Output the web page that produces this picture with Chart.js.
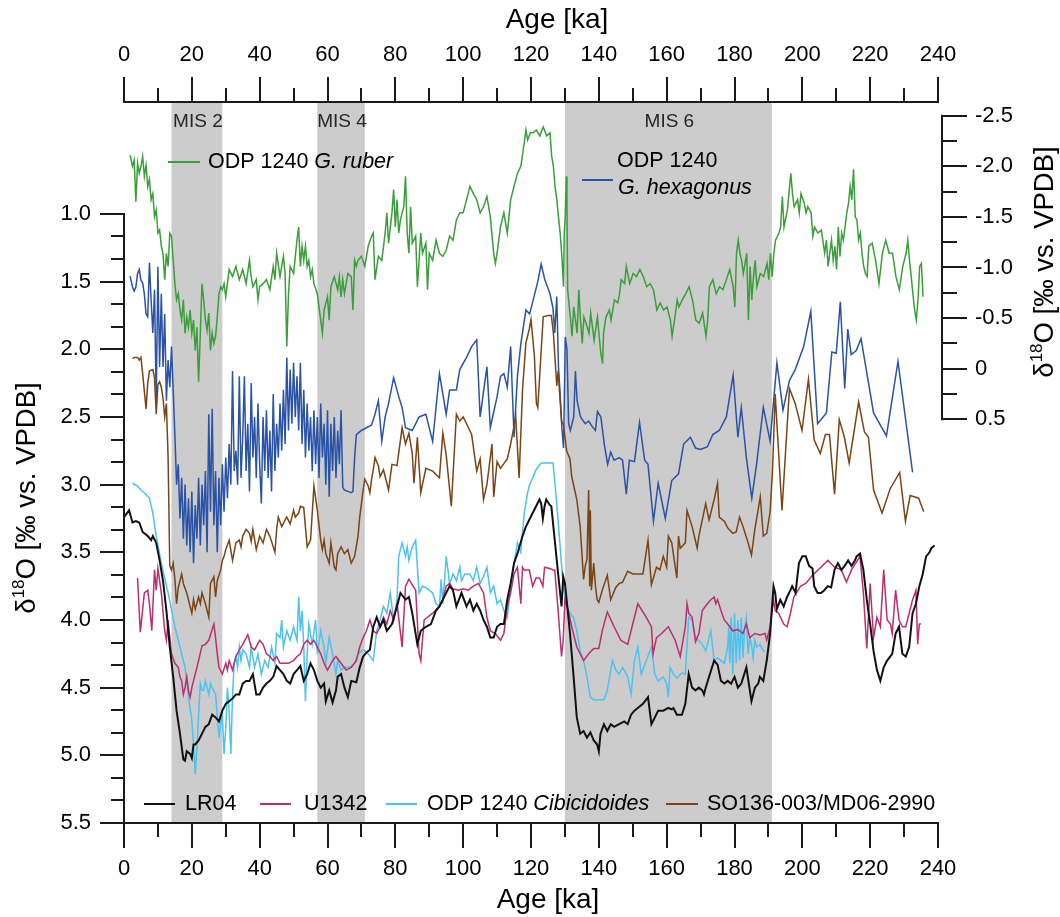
<!DOCTYPE html>
<html>
<head>
<meta charset="utf-8">
<title>d18O records, 0-240 ka</title>
<script src="https://cdn.jsdelivr.net/npm/chart.js@4/dist/chart.umd.min.js"></script>
<style>
html, body { margin: 0; padding: 0; background: #fff; }
canvas { display: block; }
</style>
</head>
<body>
<canvas id="chart" width="1060" height="917"></canvas>
<script>
// =============================
// DATA (age in ka, d18O in permil vs. VPDB)
// =============================

// tick labels
const ageTicks = [0, 20, 40, 60, 80, 100, 120, 140, 160, 180, 200, 220, 240]
const leftTickVals = [1.0, 1.5, 2.0, 2.5, 3.0, 3.5, 4.0, 4.5, 5.0, 5.5]
const leftTickLabels = ["1.0", "1.5", "2.0", "2.5", "3.0", "3.5", "4.0", "4.5", "5.0", "5.5"]
const rightTickVals = [-2.5, -2.0, -1.5, -1.0, -0.5, 0, 0.5]
const rightTickLabels = ["-2.5", "-2.0", "-1.5", "-1.0", "-0.5", "0", "0.5"]

// marine isotope stages (shaded)
const misNames = ["MIS 2", "MIS 4", "MIS 6"]
const misStart = [14, 57, 130]
const misEnd = [29, 71, 191]

// ODP 1240 G. ruber (right axis)
const ruberAge = [1.8,2.5,3,3.5,4,4.5,5,5.5,6,6.5,7,7.5,8,8.5,9,9.5,10,10.5,11,11.5,12,12.5,13,13.5,14,14.5,15,15.5,16,16.5,17,17.5,18,18.5,19,19.5,20,20.5,21,21.5,22,22.5,23,23.5,24,24.5,25,25.5,26,26.5,27,27.5,28,28.5,29,29.5,30,31,32,33,34,35,36,37,37.5,38,39,39.5,40,41,42,43,44,44.5,45,46,47,47.5,48,48.5,49,50,51,51.5,52,52.5,53,53.5,54,54.5,55,55.5,56,57,58,58.5,59,60,60.5,61,62,63,63.5,64,64.5,65,65.5,66,67,67.5,68,68.5,69,70,71,72,73,73.5,74,75,76,77,77.5,78,79,79.5,80,80.5,81,81.5,82,82.5,83,83.5,84,84.5,85,86,86.5,87,87.5,88,89,89.5,90,91,92,93,94,95,96,97,98,99,100,101,102,103,104,105,106,107,108,109,109.5,110,111,112,113,113.5,114,115,116,117,118,118.5,119,119.8,120.6,121.6,122.6,123.6,124.6,125.6,126.1,126.6,127.1,127.6,128.1,128.6,129.1,129.6,129.8,130.1,130.4,130.6,130.8,131.1,131.6,132.1,132.6,133.6,134.1,134.6,135.1,135.6,136.6,137.1,137.6,138.6,139.6,140.1,140.6,141.1,141.4,142.1,143.1,143.6,144.6,145.6,146.1,146.6,147.6,148.1,149.1,150.1,151.1,152.1,153.1,154.1,155.1,156.1,157.1,158.1,159.1,160.1,161.1,161.6,162.6,163.1,163.6,164.6,165.6,166.6,167.6,168.6,169.6,170.6,171.6,172.1,172.6,173.6,174.6,175.6,176.6,177.6,178.6,179.6,180.1,180.6,181.1,181.6,182.1,182.6,183.6,184.1,184.6,185.1,185.6,186.1,186.6,187.6,188.6,189.6,190.1,190.6,191.1,191.6,192.1,193.1,193.6,194.1,194.6,195.6,196.6,197.1,197.6,198.6,199.1,199.6,200.6,201.1,201.6,202.6,203.1,203.6,204.6,205.6,206.6,207.1,207.6,208.6,209.1,209.6,210.1,210.6,211.1,211.6,212.1,212.6,213.1,213.6,214.1,214.6,215.1,215.6,216.1,216.6,217.1,217.6,218.1,218.6,219.1,219.6,220.6,221.6,222.6,223.6,224.6,225.6,226.6,227.6,228.6,229.6,230.6,231.1,231.6,232.1,232.6,233.1,233.6,234.1,234.6,235.1,235.6]
const ruberD18O = [-2.11,-2.00,-2.06,-1.65,-2.03,-1.93,-2.00,-2.10,-1.90,-2.01,-1.80,-1.87,-1.67,-1.73,-1.50,-1.57,-1.34,-1.37,-1.21,-1.14,-0.88,-1.14,-1.01,-1.34,-1.31,-1.07,-0.84,-0.68,-0.74,-0.58,-0.48,-0.68,-0.35,-0.51,-0.41,-0.58,-0.35,-0.48,-0.18,-0.41,0.13,-0.35,-0.84,-0.68,-0.48,-0.38,-0.55,-0.18,-0.35,-0.25,-0.32,-0.51,-0.74,-0.81,-0.78,-0.84,-0.71,-0.98,-0.91,-1.01,-0.88,-0.98,-0.84,-1.07,-0.91,-0.81,-0.88,-0.68,-0.81,-0.84,-0.88,-0.78,-1.01,-0.88,-1.14,-0.91,-1.11,-0.94,-0.22,-0.74,-1.01,-0.94,-1.27,-1.40,-1.01,-1.21,-1.07,-1.21,-1.01,-1.07,-0.91,-0.98,-0.84,-0.74,-0.48,-0.35,-0.58,-0.71,-0.48,-0.81,-0.91,-0.78,-0.91,-0.71,-0.88,-0.74,-0.84,-0.94,-0.91,-0.58,-1.07,-1.01,-1.07,-1.11,-1.01,-1.21,-1.31,-1.34,-0.88,-1.11,-1.07,-1.34,-1.54,-1.24,-1.54,-1.77,-1.40,-1.67,-1.34,-1.47,-1.54,-1.60,-1.90,-1.34,-1.14,-1.60,-1.24,-1.31,-0.81,-1.07,-1.34,-1.14,-1.24,-0.78,-1.14,-1.07,-1.27,-1.14,-1.11,-1.17,-1.31,-1.27,-1.47,-1.54,-1.54,-1.67,-1.80,-1.73,-1.67,-1.54,-1.60,-1.70,-1.50,-1.14,-1.04,-1.14,-1.40,-1.54,-1.34,-1.50,-1.67,-1.80,-1.93,-2.00,-2.23,-2.36,-2.26,-2.33,-2.33,-2.36,-2.30,-2.39,-2.30,-2.33,-2.10,-2.00,-1.80,-1.67,-1.50,-1.34,-1.11,-0.81,-1.34,-1.50,-1.90,-1.67,-0.78,-0.68,-0.51,-0.32,-0.61,-0.35,-0.78,-0.48,-0.25,-0.51,-0.41,-0.35,-0.55,-0.28,-0.51,-0.32,-0.15,-0.05,-0.35,-0.51,-0.58,-0.48,-0.68,-0.65,-0.74,-0.88,-0.84,-1.01,-0.84,-0.94,-0.91,-0.98,-0.91,-0.81,-0.84,-0.78,-0.58,-0.65,-0.58,-0.61,-0.48,-0.32,-0.55,-0.68,-0.61,-0.68,-0.74,-0.81,-0.68,-0.48,-0.45,-0.55,-0.32,-0.48,-0.81,-0.88,-0.74,-0.81,-0.78,-0.88,-0.98,-0.81,-0.61,-1.14,-1.27,-1.14,-1.07,-0.94,-1.14,-0.48,-1.01,-0.68,-0.91,-1.07,-0.81,-0.94,-0.91,-1.04,-0.88,-1.14,-0.91,-1.14,-1.27,-1.34,-1.40,-1.70,-1.40,-1.57,-1.93,-1.73,-1.60,-1.67,-1.54,-1.73,-1.63,-1.54,-1.60,-1.54,-1.31,-1.40,-1.34,-1.37,-1.14,-1.27,-1.01,-1.27,-1.07,-1.21,-0.98,-1.40,-1.11,-1.34,-1.27,-1.40,-1.54,-1.63,-1.80,-1.67,-1.97,-1.50,-1.47,-1.27,-1.34,-1.14,-1.01,-0.94,-0.91,-1.21,-1.24,-1.07,-0.84,-1.14,-1.27,-1.14,-1.14,-0.91,-0.78,-1.01,-1.14,-1.27,-1.07,-0.91,-0.74,-0.58,-0.48,-0.68,-1.01,-1.04,-0.71]

// ODP 1240 G. hexagonus (left axis)
const hexAge = [1.8,2.5,3,3.5,4,4.5,5,5.5,6,6.5,7,7.5,8,8.5,9,9.5,10,10.5,11,11.5,12,12.5,13,13.5,14,14.5,15,15.5,16,16.5,17,17.5,18,18.5,19,19.5,20,20.5,21,21.5,22,22.5,23,23.5,24,24.5,25,25.5,26,26.5,27,27.5,28,28.5,29,29.5,30,30.5,31,31.5,32,32.5,33,33.5,34,34.5,35,35.5,36,36.5,37,37.5,38,38.5,39,39.5,40,40.5,41,41.5,42,42.5,43,43.5,44,44.5,45,45.5,46,46.5,47,47.5,48,48.5,49,49.5,50,50.5,51,51.5,52,52.5,53,53.5,54,54.5,55,55.5,56,56.5,57,57.5,58,58.5,59,59.5,60,60.5,61,61.5,62,62.5,63,63.5,64,64.5,65,66,67,67.5,68,68.5,70,71.5,73,74,75,76,77,78,79.5,81,82,83,85,87,89,91,93,95,96,98,99,101,102.5,104,105,107,108,110,111,112,113,114,115,116,117,118.5,119.6,121,122,123,124,125.6,126.5,127,127.6,128.1,128.6,129.1,129.6,130.1,130.6,131.1,131.6,132.6,133.1,133.6,134.6,136,137,138,139,139.6,140.6,141.6,142.6,143.5,144.5,146,147,148.1,149,150.5,152,153.5,154.5,156.1,157.5,159.6,161.5,163.5,165,167,168.5,170,172,173.6,175.5,177.6,179.6,181,182,183.5,185.1,186.5,188.5,190.5,192.5,194.3,196.2,197.9,200.4,202.5,204.5,207.1,208.7,210,211.2,212.5,213.4,214.4,215.9,217.3,221,224.8,228.2,232.5]
const hexD18O = [1.46,1.54,1.57,1.54,1.44,1.41,1.49,1.51,1.59,1.74,1.76,1.36,1.64,1.88,1.56,2.38,1.39,2.13,1.59,2.13,1.74,2.38,2.08,2.28,1.98,2.3,2.63,3.0,2.85,3.25,2.95,3.4,3.0,3.45,3.1,3.5,3.05,3.58,3.15,3.4,2.95,3.45,3.0,3.3,2.9,3.5,2.48,3.2,2.44,3.3,2.9,3.5,2.95,3.3,2.85,3.2,2.8,3.1,2.7,3.0,2.16,2.9,2.75,3.0,2.2,2.95,2.65,2.2,2.9,2.55,3.05,2.25,2.8,2.5,2.95,2.4,2.85,3.14,2.5,2.9,2.45,2.95,2.6,3.05,2.33,2.9,2.55,2.8,2.4,2.75,2.3,2.7,2.06,2.6,2.15,2.55,2.1,2.5,2.2,2.6,2.1,2.7,2.3,2.8,2.4,2.75,2.5,2.9,2.45,2.85,2.5,2.95,2.4,2.8,2.55,3.0,2.45,3.09,2.55,2.9,2.5,2.95,2.6,2.85,2.45,3.02,3.04,3.05,3.06,3.05,2.8,2.63,2.6,2.58,2.56,2.48,2.38,2.68,2.5,2.4,2.21,2.35,2.43,2.58,2.6,2.5,2.48,2.68,2.18,2.48,2.3,2.3,2.15,2.06,1.98,1.93,2.5,2.13,2.58,2.35,2.2,2.18,2.28,1.98,2.65,2.2,1.96,1.71,1.74,1.6,1.5,1.37,1.48,1.59,1.7,1.88,1.61,2.13,2.33,2.58,2.73,1.91,2.0,2.55,2.6,2.5,2.16,2.38,2.5,2.55,2.53,2.57,2.6,2.46,2.5,2.7,2.85,2.76,2.82,2.8,2.82,3.07,2.82,2.83,2.54,2.82,2.85,3.27,2.99,3.25,2.97,2.92,2.7,2.65,2.73,2.74,2.72,2.63,2.6,2.5,2.19,2.65,2.43,2.8,3.1,2.85,2.43,2.68,2.1,2.45,2.23,2.15,1.98,1.72,2.55,2.47,2.02,2.03,1.65,2.29,1.85,2.04,2.01,1.92,2.47,2.64,2.09,2.91]

// SO136-003/MD06-2990 (left axis)
const soAge = [2.5,3,4,4.5,5,5.5,6.5,7,7.5,8.5,9,9.5,10,10.5,11,11.5,12,12.5,13,13.5,14,14.5,15,15.5,16,17,17.5,18.5,19.5,20,20.5,21,22,22.5,23,24,25,25.5,26.5,27,27.5,28.5,29,29.5,30,31,32,33,34,34.5,35,36,37,37.5,38,39,40,41,42,43,44,44.5,45,45.5,46.5,47.5,48,49,50,50.5,51.5,52,53,54,55,56,57,58,58.5,59,59.5,60.5,61,62,62.5,63,64,65,66,67,68,69,69.5,70.5,71,72,72.5,73,73.5,74,75,75.5,76.5,78,79,80.5,82,83,84,85,85.5,86.5,87.5,89,91,93,94,95,96.5,98,99,100,101,102.5,104,105,106,107,108.5,109,110,111,113,114,115.5,116.5,117.5,118.5,119.5,120,121,121.6,122,123.6,125,126,126.6,127.6,128,129,129.6,130.5,131.5,132,133.5,134.5,135.5,136,136.5,137,137.3,137.5,137.8,138.5,139,139.5,140,141,142.5,143.5,145,146,147,148.5,150,151.5,153,154.5,155.5,157,158,159,160,160.5,161.5,163,163.5,164,165.5,166,167.5,169,169.5,170.5,171.5,172.5,174,175,175.5,177,178,179.5,180.5,181.5,182.5,184,185,186,187.6,188.5,189.5,190.5,191.2,192,194,196.2,197.9,199.9,201.8,203.5,205.3,206.8,208,209.5,210.9,212.4,213.8,216.6,218.3,219.5,221,223.5,225.9,228.7,230.4,231.8,234.3,235.8]
const soD18O = [2.07,2.06,2.06,2.08,2.06,2.18,2.44,2.25,2.16,2.15,2.21,2.48,2.26,2.24,2.28,2.36,2.5,2.4,2.8,3.6,3.63,3.58,3.7,3.88,3.76,3.66,3.73,3.8,3.9,3.95,3.85,3.92,3.83,3.88,3.8,3.88,3.98,3.73,3.68,3.83,3.71,3.63,3.56,3.53,3.48,3.41,3.56,3.43,3.41,3.46,3.38,3.33,3.36,3.42,3.33,3.48,3.38,3.43,3.33,3.38,3.46,3.5,3.33,3.24,3.31,3.26,3.24,3.29,3.19,3.24,3.21,3.16,3.17,3.46,3.41,3.01,3.19,3.41,3.48,3.41,3.51,3.58,3.43,3.61,3.63,3.51,3.46,3.51,3.48,3.58,3.53,3.38,3.24,3.04,2.96,3.01,3.06,2.96,2.89,2.8,2.86,2.94,2.89,3.04,2.85,2.86,2.58,2.7,2.62,2.77,2.99,2.65,3.06,2.88,2.9,2.95,2.62,2.78,3.16,2.48,2.53,2.5,2.55,2.63,2.9,2.81,3.11,3.0,2.7,3.09,2.83,2.88,2.81,2.7,2.5,2.95,2.3,1.95,1.85,1.78,2.05,2.4,2.43,1.76,1.75,1.75,1.88,2.27,2.16,2.53,2.56,2.75,2.81,2.94,3.11,3.31,3.7,3.6,3.55,3.04,3.75,3.19,3.78,3.58,3.75,3.85,3.87,3.78,3.67,3.85,3.76,3.73,3.72,3.64,3.66,3.66,3.66,3.41,3.74,3.61,3.63,3.53,3.61,3.38,3.43,3.69,3.38,3.47,3.43,3.19,3.31,3.47,3.38,3.26,3.14,3.26,3.11,2.99,3.24,3.27,3.32,3.36,3.35,3.24,3.31,3.43,3.52,3.33,3.09,3.38,3.36,3.2,2.9,2.33,3.19,2.29,2.4,2.6,2.22,2.67,2.77,2.63,2.63,3.07,2.52,2.65,2.84,2.39,2.61,2.65,3.04,3.21,3.03,2.91,3.27,3.08,3.1,3.2]

// ODP 1240 Cibicidoides (left axis)
const cibAge = [2.5,4,5,6,7.5,8.5,9.5,11,13,15,17,18,19,20,20.5,21,21.5,22,22.5,23,23.5,24,24.5,25,25.5,26,27,27.5,28,28.5,29,29.5,30,30.5,31,31.5,32,32.5,33,33.5,34,34.5,35,36,37,37.5,38.5,39.5,40.5,41.5,42.5,43.5,44.5,45,46,46.5,47,48,49,50,51,51.5,52,52.5,53,53.5,54,54.5,55.5,56.5,57,58,59,59.5,60.5,61.5,62.5,63,64,65,66.5,68,69,70.5,72,73.5,74.5,75.5,76.5,77.5,78.5,79.5,80.5,81,82,83,83.5,84,85,86,87,88,89,91,92,93,93.5,94,95,96,97,98,99,99.5,100.5,102,103,104,105,106,107,108,109,110,111,112,113,114,115,116,117,118,119,119.5,121.5,123,126.5,127.5,128.5,129.5,130.5,131.5,132.5,133.5,134.5,135.5,136.5,137.5,138.5,141.5,142.5,144,145,146,147,148.5,149.5,150.5,151.5,152.5,154,155.5,156.5,157.5,159,160,160.5,161,162,163,164.5,165.5,166.5,167.5,168.5,170.5,171.5,173,174,175,176,177,178,178.3,178.6,179,179.5,180,180.5,181,181.5,182,182.5,183,183.5,184,184.5,185,185.5,186,186.5,187.5,188.5,189]
const cibD18O = [2.99,3.01,3.04,3.06,3.1,3.21,3.38,3.58,3.8,4.05,4.25,4.35,4.57,4.74,4.92,5.14,4.95,4.7,4.47,4.52,4.52,4.45,4.5,4.55,4.47,4.5,4.55,4.7,4.87,4.77,4.7,4.99,4.8,4.5,4.67,4.99,4.55,4.32,4.27,4.35,4.2,4.3,4.22,4.25,4.35,4.2,4.35,4.25,4.4,4.3,4.35,4.2,4.32,4.1,4.13,4.0,4.2,4.08,4.15,4.05,4.15,3.83,4.08,3.93,4.2,4.6,4.25,4.03,4.18,4.0,4.25,4.08,4.2,4.32,4.13,4.25,4.4,4.3,4.37,4.35,4.35,4.32,4.25,4.22,4.25,4.3,4.08,4.0,3.9,3.95,3.8,4.0,3.85,3.53,3.43,3.53,3.46,3.56,3.46,3.41,3.8,3.75,3.76,3.8,3.88,3.9,3.7,3.88,3.53,3.73,3.66,3.71,3.61,3.71,3.66,3.66,3.71,3.61,3.73,3.68,3.61,3.8,3.75,3.88,3.85,3.93,3.98,3.75,3.58,3.43,3.5,3.21,3.06,3.01,2.89,2.84,2.84,3.11,3.43,3.75,3.9,3.95,3.98,4.08,4.23,4.3,4.42,4.57,4.59,4.59,4.52,4.3,4.37,4.4,4.35,4.42,4.55,4.3,4.2,4.4,4.3,4.2,4.4,4.45,4.42,4.47,4.57,4.35,4.4,4.43,4.39,4.4,3.98,4.0,4.13,4.18,4.23,4.08,4.3,4.28,4.3,4.32,4.2,4.05,4.32,3.98,4.4,3.95,4.32,4.0,4.3,3.98,4.28,4.05,3.98,4.25,4.13,4.18,4.28,4.15,4.2,4.18,4.23,4.23]

// U1342 (left axis)
const u1342Age = [4,4.8,6,7,7.5,8.2,9,9.5,10,11,12,12.5,13,14,15,16,16.5,17,17.5,18,18.5,19,19.5,20,21,22,23,24,25,26.5,27,27.5,28,29,30,30.5,31,32,33,34,35,36.5,37.5,38.5,40,41,42,43,44,45,46,47.5,48.5,50,51,52,53,54,55,56,57,58,59,60,61.5,62.5,64,65.5,67,68.5,69.5,70.5,71.5,72.5,73.5,74.5,75.5,76.5,77.5,78.5,79.5,80.5,82,82.5,83,84,85,86,87,87.5,88.5,89.5,91,93,94,95,96,97,98.5,100,101.5,103,104.5,106,107,108,109.5,111,112,113,114,115,116,117,117.5,118,119.5,120.5,121.5,122.5,123.5,124,125.5,126.5,127,128,129,129.5,130,131,132,133.5,135.5,137,138.5,140,141,142.5,144.5,146.5,148.5,150,151.5,154,155.5,156,157,158.5,160.5,162.5,164,165.5,166,166.5,167.5,168.5,169.5,170.5,172,173,174,174.5,175,176,177,178,179.5,181,182.5,183.5,184.5,186,187.5,189,189.5,190.5,191.5,192,193,194.5,195.5,196.5,197.5,199.5,201,203,205.5,207.5,209.5,211.5,213,214.5,217,218,219,220,221,222,223,224,225,226,226.5,227.5,228.5,229.5,230.5,231.5,232.5,233.5,234,234.5,235]
const u1342D18O = [3.69,4.09,3.8,3.78,3.88,4.08,3.63,3.78,3.62,3.8,4.08,4.15,4.0,4.25,4.32,4.35,4.42,4.45,4.55,4.5,4.42,4.52,4.57,4.5,4.4,4.3,4.19,4.18,4.15,4.03,4.13,4.25,4.35,4.4,4.32,4.37,4.3,4.37,4.27,4.22,4.18,4.11,4.2,4.22,4.15,4.18,4.25,4.27,4.3,4.27,4.32,4.32,4.32,4.3,4.27,4.25,4.18,4.15,4.18,4.15,4.2,4.25,4.32,4.37,4.3,4.27,4.32,4.37,4.35,4.3,4.2,4.13,4.08,4.0,4.08,4.1,4.05,3.98,4.03,3.93,4.0,3.88,4.2,3.98,3.75,3.7,3.74,3.78,4.25,4.3,4.0,3.98,3.95,3.9,3.85,3.75,3.73,3.77,3.78,3.77,3.78,3.75,3.73,3.8,3.98,4.08,4.1,4.15,4.1,3.9,3.8,3.66,3.61,3.88,3.61,3.63,3.63,3.75,3.69,3.69,3.75,3.61,3.62,3.63,3.63,3.93,4.27,4.15,3.85,3.93,4.05,4.2,4.3,4.25,4.21,4.21,4.08,3.94,4.05,4.15,4.18,4.03,3.88,3.98,4.05,4.25,4.13,4.1,4.05,4.15,4.27,4.05,3.88,3.95,3.98,4.16,4.1,3.93,3.88,3.85,3.83,3.88,3.85,3.93,4.0,4.03,4.08,4.07,4.1,4.03,4.13,4.1,4.11,4.1,4.15,4.05,3.85,3.93,3.95,4.03,4.05,3.95,3.83,3.75,3.73,3.67,3.61,3.56,3.61,3.63,3.72,3.63,3.53,3.8,4.21,3.73,4.13,3.98,4.05,3.63,4.0,4.03,4.1,3.78,4.0,4.05,4.05,3.95,3.85,3.78,4.18,4.03,4.03]

// LR04 stack (left axis)
const lr04Age = [0,1.5,2.5,3.5,4.5,5.5,7,8,8.5,9.5,10.5,11.5,12.5,13.5,14.5,15.5,16.5,17.5,18,18.5,19.5,20,20.5,21,22,23,24,25,26,27,28,29,30,31,32,33,34,35,36,37,38,39,40,41,42,43,44,45,46,47,48,49,50,51,52,53,54,55,56,57,58,59,59.5,60.5,61.5,62.5,63,64,65,66,67,68.5,69.5,70.5,71.5,72.5,73.5,74.5,75.5,76.5,77.5,79,80.5,81.5,83,84,85,86.5,87.5,89,90.5,92,93,95,96,97,98,99.5,101,102,103,104,105,106,107,108,109,110,111,112,113,114,115,116,117.5,118.5,119.5,121.5,122.5,123,123.5,124,124.5,125.5,126,127,128,129,129.5,130,130.5,131.5,132.5,133.5,134.5,135.5,136.5,137.5,138.5,139.5,140,140.5,141.5,142.5,143.5,144.5,146,147.5,148.5,149.5,150.5,151.5,153,154.5,155.5,156.5,157.5,159,160.5,161.5,162,163,164.5,165.5,166.5,167.5,168.5,169.5,170.5,171,171.5,172.5,174,175,176,177,178,179,180,181,182,183.5,185,186,187,187.5,188.5,189.5,190.5,191.5,192,192.5,193.5,194.5,195.5,196.5,197,198,199,200,201,202,203,203.5,204.5,205.5,206.5,207.5,208.5,209.5,210.5,211.5,212.5,213.5,214.5,215.5,216,217,218,219,220,221,222,223,224,225,226.5,227.5,228.5,229.5,230.5,231.5,232.5,233.5,234.5,235.5,236.5,237.5,238,239]
const lr04D18O = [3.24,3.19,3.28,3.27,3.28,3.35,3.38,3.41,3.38,3.43,3.56,3.71,3.93,4.2,4.42,4.67,4.84,5.03,5.04,4.97,4.99,5.02,4.92,4.92,4.89,4.84,4.79,4.77,4.7,4.72,4.75,4.67,4.62,4.6,4.58,4.55,4.55,4.47,4.45,4.45,4.4,4.55,4.55,4.5,4.47,4.45,4.42,4.34,4.37,4.4,4.45,4.47,4.4,4.37,4.34,4.45,4.4,4.32,4.37,4.45,4.5,4.47,4.6,4.52,4.61,4.52,4.42,4.4,4.5,4.57,4.45,4.46,4.35,4.27,4.24,4.22,4.05,3.98,4.05,4.0,4.08,4.03,3.9,3.8,3.85,3.83,3.95,4.18,4.08,4.05,4.03,3.93,3.9,3.8,3.75,3.78,3.9,3.8,3.9,3.85,3.93,3.88,3.93,4.0,4.05,4.13,4.13,4.05,4.03,4.03,3.85,3.73,3.58,3.51,3.38,3.31,3.26,3.16,3.11,3.14,3.25,3.16,3.11,3.15,3.16,3.41,3.66,3.9,3.68,3.73,3.85,4.1,4.4,4.72,4.84,4.82,4.87,4.83,4.89,4.92,4.97,4.84,4.77,4.82,4.77,4.79,4.77,4.75,4.77,4.7,4.67,4.65,4.62,4.57,4.77,4.72,4.67,4.67,4.65,4.66,4.65,4.7,4.7,4.62,4.4,4.5,4.52,4.5,4.52,4.55,4.5,4.42,4.3,4.33,4.45,4.47,4.45,4.47,4.42,4.5,4.47,4.35,4.6,4.5,4.47,4.42,4.45,4.3,4.1,3.75,3.8,3.92,3.85,3.9,3.83,3.78,3.75,3.8,3.58,3.53,3.53,3.6,3.62,3.75,3.8,3.8,3.78,3.75,3.76,3.63,3.58,3.63,3.6,3.56,3.6,3.56,3.53,3.51,3.63,3.85,4.03,4.23,4.37,4.45,4.35,4.3,4.25,4.1,4.05,4.25,4.27,4.2,3.95,3.88,3.75,3.66,3.53,3.5,3.47,3.45]


// =============================
// Helpers
// =============================
const FONT = "'Liberation Sans', Arial, Helvetica, sans-serif"
Chart.defaults.font.family = FONT
Chart.defaults.color = "#000"

function pts(ages, vals){
return ages.map((a, i) => ({x: a, y: vals[i]}))
}

function series(label, ages, vals, color, axis, width){
return {
label: label,
data: pts(ages, vals),
yAxisID: axis,
xAxisID: "x",
borderColor: color,
borderWidth: width || 1.5,
pointRadius: 0,
tension: 0,
fill: false
}
}

// text pieces: [text, italic]
function drawPieces(ctx, x, y, pieces, size){
let cx = x
pieces.forEach(p => {
ctx.font = (p[1] ? "italic " : "") + size + "px " + FONT
ctx.fillText(p[0], cx, y)
cx += ctx.measureText(p[0]).width
})
}

function legendItem(ctx, x1, x2, y, color, tx, ty, pieces){
ctx.strokeStyle = color
ctx.lineWidth = 2
ctx.beginPath()
ctx.moveTo(x1, y)
ctx.lineTo(x2, y)
ctx.stroke()
ctx.fillStyle = "#000"
ctx.textAlign = "left"
ctx.textBaseline = "middle"
drawPieces(ctx, tx, ty, pieces, 21.5)
}

// rotated axis title with superscript 18
function yTitle(ctx, cx, cy){
const big = "27.5px " + FONT
const small = "17px " + FONT
ctx.save()
ctx.translate(cx, cy)
ctx.rotate(-Math.PI / 2)
ctx.fillStyle = "#000"
ctx.textAlign = "left"
ctx.textBaseline = "middle"
ctx.font = big
let w1 = ctx.measureText("\u03b4").width
let w3 = ctx.measureText("O [\u2030 vs. VPDB]").width
ctx.font = small
let w2 = ctx.measureText("18").width
let x = -(w1 + w2 + w3) / 2
ctx.font = big
ctx.fillText("\u03b4", x, 0)
ctx.font = small
ctx.fillText("18", x + w1, -8)
ctx.font = big
ctx.fillText("O [\u2030 vs. VPDB]", x + w1 + w2, 0)
ctx.restore()
}


// =============================
// Plugin: shading, axes, legends
// =============================
const decor = {
id: "decor",

beforeDatasetsDraw(chart){
const ctx = chart.ctx
const xs = chart.scales.x
const area = chart.chartArea
ctx.save()
ctx.fillStyle = "#cccccc"
misStart.forEach((s, i) => {
let a = xs.getPixelForValue(s)
let b = xs.getPixelForValue(misEnd[i])
ctx.fillRect(a, area.top, b - a, area.bottom - area.top)
})
ctx.fillStyle = "#262626"
ctx.font = "19px " + FONT
ctx.textAlign = "center"
ctx.textBaseline = "middle"
misNames.forEach((n, i) => {
let c = xs.getPixelForValue((misStart[i] + misEnd[i]) / 2)
ctx.fillText(n, c + 1, area.top + 20)
})
ctx.restore()
},

afterDatasetsDraw(chart){
const ctx = chart.ctx
const xs = chart.scales.x
const yl = chart.scales.y
const yr = chart.scales.y2
const area = chart.chartArea
const rx = area.right + 4

ctx.save()
ctx.strokeStyle = "#1a1a1a"
ctx.lineWidth = 2
ctx.lineCap = "butt"
ctx.beginPath()

// top and bottom age axes
ctx.moveTo(area.left - 1, area.top)
ctx.lineTo(area.right + 1, area.top)
ctx.moveTo(area.left - 1, area.bottom)
ctx.lineTo(area.right + 1, area.bottom)
for(let a = 0; a <= 240; a += 10){
let px = Math.round(xs.getPixelForValue(a))
let len = a % 20 === 0 ? 25 : 14
ctx.moveTo(px, area.top)
ctx.lineTo(px, area.top - len)
ctx.moveTo(px, area.bottom)
ctx.lineTo(px, area.bottom + len)
}

// left axis, minor ticks every 1/6 permil
let yTop = yl.getPixelForValue(1.0)
ctx.moveTo(area.left, yTop - 1)
ctx.lineTo(area.left, area.bottom + 1)
for(let k = 0; k <= 27; k++){
let py = Math.round(yl.getPixelForValue(1.0 + k / 6))
let len = k % 3 === 0 ? 24 : 13
ctx.moveTo(area.left, py)
ctx.lineTo(area.left - len, py)
}

// right axis (G. ruber)
ctx.moveTo(rx, yr.getPixelForValue(-2.5) - 1)
ctx.lineTo(rx, yr.getPixelForValue(0.5) + 1)
for(let k = 0; k <= 12; k++){
let v = -2.5 + k * 0.25
let py = Math.round(yr.getPixelForValue(v))
let len = k % 2 === 0 ? 25 : 15
ctx.moveTo(rx, py)
ctx.lineTo(rx + len, py)
}
ctx.stroke()
ctx.restore()

// axis titles
ctx.save()
ctx.fillStyle = "#000"
ctx.font = "28px " + FONT
ctx.textAlign = "center"
ctx.textBaseline = "middle"
ctx.fillText("Age [ka]", 557, 20)
ctx.fillText("Age [ka]", 548, 900)
ctx.restore()
yTitle(ctx, 27, 498)
yTitle(ctx, 1045, 262)

// legends
ctx.save()
legendItem(ctx, 168, 200, 162, "#3a9e3a", 208, 162, [["ODP 1240 ", false], ["G. ruber", true]])
legendItem(ctx, 582, 613, 180, "#2a53a6", 617, 161, [["ODP 1240", false]])
drawPieces(ctx, 618, 188, [["G. hexagonus", true]], 21.5)

let ly = 804
legendItem(ctx, 144, 175, ly, "#111111", 185, ly, [["LR04", false]])
legendItem(ctx, 260, 291, ly, "#bb2f6e", 304, ly, [["U1342", false]])
legendItem(ctx, 386, 417, ly, "#4cc2f0", 427, ly, [["ODP 1240 ", false], ["Cibicidoides", true]])
legendItem(ctx, 666, 698, ly, "#7a4516", 707, ly, [["SO136-003/MD06-2990", false]])
ctx.restore()
}
}


// =============================
// Chart
// =============================
const ctx = document.getElementById("chart").getContext("2d")

const chart = new Chart(ctx, {
type: "line",
data: {
datasets: [
series("LR04", lr04Age, lr04D18O, "#111111", "y", 2),
series("U1342", u1342Age, u1342D18O, "#bb2f6e", "y"),
series("ODP 1240 Cibicidoides", cibAge, cibD18O, "#4cc2f0", "y"),
series("SO136-003/MD06-2990", soAge, soD18O, "#7a4516", "y"),
series("ODP 1240 G. hexagonus", hexAge, hexD18O, "#2a53a6", "y"),
series("ODP 1240 G. ruber", ruberAge, ruberD18O, "#3a9e3a", "y2")
]
},
options: {
responsive: false,
animation: false,
devicePixelRatio: 1,
layout: { padding: 0 },
plugins: {
legend: { display: false },
tooltip: { enabled: false }
},
scales: {
x: {
type: "linear",
position: "bottom",
min: 0,
max: 240,
grid: { display: false, drawTicks: false },
border: { display: false },
afterBuildTicks: s => { s.ticks = ageTicks.map(v => ({value: v})) },
ticks: { autoSkip: false, maxRotation: 0, padding: 33, color: "#000", font: { size: 22 } },
afterFit: s => { s.height = 94 }
},
x2: {
type: "linear",
position: "top",
min: 0,
max: 240,
grid: { display: false, drawTicks: false },
border: { display: false },
afterBuildTicks: s => { s.ticks = ageTicks.map(v => ({value: v})) },
ticks: { autoSkip: false, maxRotation: 0, padding: 34, color: "#000", font: { size: 22 } },
afterFit: s => { s.height = 102 }
},
y: {
type: "linear",
position: "left",
reverse: true,
min: 0.173,
max: 5.5,
grid: { display: false, drawTicks: false },
border: { display: false },
afterBuildTicks: s => { s.ticks = leftTickVals.map(v => ({value: v})) },
ticks: { autoSkip: false, padding: 33, color: "#000", font: { size: 22 },
callback: (v, i) => leftTickLabels[i] },
afterFit: s => { s.width = 124 }
},
y2: {
type: "linear",
position: "right",
reverse: true,
min: -2.635,
max: 4.489,
grid: { display: false, drawTicks: false },
border: { display: false },
afterBuildTicks: s => { s.ticks = rightTickVals.map(v => ({value: v})) },
ticks: { autoSkip: false, padding: 37, color: "#000", font: { size: 22 },
callback: (v, i) => rightTickLabels[i] },
afterFit: s => { s.width = 122 }
}
}
},
plugins: [decor]
})
</script>
</body>
</html>
